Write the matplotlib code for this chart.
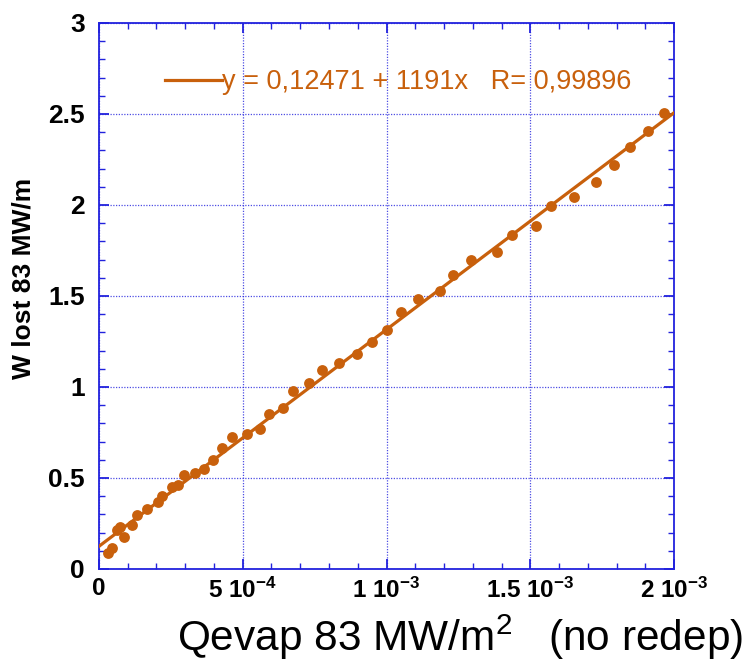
import numpy as np
import matplotlib
matplotlib.use("Agg")
import matplotlib.pyplot as plt
from matplotlib.ticker import MultipleLocator, FixedLocator

# Qevap (MW/m2) vs W lost (MW/m)
qevap = [3.1e-5, 4.5e-5, 6.3e-5, 7.3e-5, 8.7e-5, 1.15e-4, 1.32e-4, 1.67e-4, 2.06e-4,
         2.20e-4, 2.54e-4, 2.75e-4, 2.96e-4, 3.34e-4, 3.66e-4, 3.97e-4, 4.29e-4,
         4.63e-4, 5.14e-4, 5.61e-4, 5.92e-4, 6.41e-4, 6.76e-4, 7.32e-4, 7.74e-4,
         8.36e-4, 8.99e-4, 9.51e-4, 1.003e-3, 1.052e-3, 1.108e-3, 1.185e-3, 1.23e-3,
         1.293e-3, 1.383e-3, 1.436e-3, 1.519e-3, 1.571e-3, 1.652e-3, 1.728e-3,
         1.791e-3, 1.847e-3, 1.909e-3, 1.965e-3]
wlost = [0.088, 0.116, 0.215, 0.232, 0.177, 0.243, 0.298, 0.331, 0.370,
         0.403, 0.448, 0.464, 0.519, 0.525, 0.547, 0.597, 0.663,
         0.724, 0.740, 0.768, 0.851, 0.884, 0.978, 1.022, 1.094,
         1.133, 1.182, 1.249, 1.315, 1.414, 1.486, 1.525, 1.613,
         1.696, 1.740, 1.834, 1.884, 1.994, 2.044, 2.127,
         2.221, 2.320, 2.409, 2.508]

# fit given in the legend
a0, a1 = 0.12471, 1191
fit_label = "y = 0,12471 + 1191x   R= 0,99896"

xticks = [0, 5e-4, 1e-3, 1.5e-3, 2e-3]
xticklabels = ["0", r"5 10$^{-4}$", r"1 10$^{-3}$", r"1.5 10$^{-3}$", r"2 10$^{-3}$"]
yticks = [0, 0.5, 1, 1.5, 2, 2.5, 3]
yticklabels = ["0", "0.5", "1", "1.5", "2", "2.5", "3"]

orange = "#c8600c"
blue = "#2222dd"

plt.rcParams["font.family"] = ["Liberation Sans", "DejaVu Sans"]
plt.rcParams["mathtext.fontset"] = "custom"
plt.rcParams["mathtext.rm"] = "Liberation Sans:bold"
plt.rcParams["mathtext.it"] = "Liberation Sans:bold"
plt.rcParams["mathtext.bf"] = "Liberation Sans:bold"

fig = plt.figure(figsize=(7.51, 6.64), dpi=100)
ax = fig.add_axes([0.1318, 0.1431, 0.7657, 0.8223])

ax.plot(qevap, wlost, "o", color=orange, markersize=7.8, markeredgewidth=0, zorder=3)
xf = np.array([0, 2e-3])
ax.plot(xf, a0 + a1 * xf, "-", color=orange, linewidth=2.3, label=fit_label, zorder=4)

ax.set_xlim(0, 2e-3)
ax.set_ylim(0, 3)
ax.xaxis.set_major_locator(FixedLocator(xticks))
ax.set_xticklabels(xticklabels)
ax.xaxis.set_minor_locator(MultipleLocator(1e-4))
ax.yaxis.set_major_locator(FixedLocator(yticks))
ax.set_yticklabels(yticklabels)
ax.yaxis.set_minor_locator(MultipleLocator(0.1))

ax.grid(True, which="major", color=blue, linestyle=(0, (1, 1.2)), linewidth=0.9, alpha=0.8)
for s in ax.spines.values():
    s.set_color(blue)
    s.set_linewidth(1.3)
ax.tick_params(which="both", direction="in", top=True, right=True, color=blue)
ax.tick_params(which="major", length=7, width=1.3)
ax.tick_params(which="minor", length=4, width=1.0)
ax.tick_params(axis="y", which="major", labelsize=19, pad=10)
ax.tick_params(axis="x", which="major", labelsize=17.5, pad=6)
for lab in ax.get_xticklabels() + ax.get_yticklabels():
    lab.set_fontweight("bold")

leg = ax.legend(loc="center left", bbox_to_anchor=(0.115, 0.891), frameon=False,
                fontsize=19.5, handlelength=2.1, handletextpad=0.0, borderaxespad=0,
                borderpad=0)
for t in leg.get_texts():
    t.set_color(orange)

fig.text(0.031, 0.581, "W lost 83 MW/m", rotation=90, ha="center", va="center",
         fontsize=19, fontweight="bold")
fig.text(0.236, 0.019, r"Qevap 83 MW/m$^{\mathregular{2}}$   (no redep)", ha="left", va="baseline",
         fontsize=30.5, math_fontfamily="dejavusans")

fig.savefig("out.png", dpi=100)
